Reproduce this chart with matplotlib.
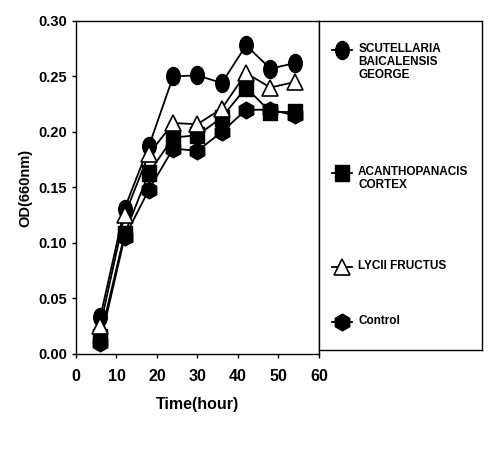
import matplotlib
matplotlib.use('Agg')
import matplotlib.pyplot as plt
from matplotlib.path import Path
import numpy as np

# Zeitpunkte (Stunden) und OD-Werte je Gruppe
time = [6, 12, 18, 24, 30, 36, 42, 48, 54]
scutellaria = [0.033, 0.131, 0.187, 0.250, 0.251, 0.244, 0.278, 0.257, 0.262]
acanthopanax = [0.015, 0.108, 0.163, 0.195, 0.197, 0.213, 0.240, 0.218, 0.218]
lycii = [0.025, 0.125, 0.180, 0.208, 0.207, 0.221, 0.253, 0.240, 0.245]
control = [0.010, 0.105, 0.148, 0.185, 0.183, 0.200, 0.220, 0.220, 0.215]

labels = ['SCUTELLARIA\nBAICALENSIS\nGEORGE', 'ACANTHOPANACIS\nCORTEX',
          'LYCII FRUCTUS', 'Control']

plt.rcParams['font.family'] = ['Liberation Sans', 'DejaVu Sans']
plt.rcParams['font.weight'] = 'bold'

# hohe Ellipse und hohes Rechteck als Marker
circ = Path.unit_circle()
ellipse = Path(circ.vertices * np.array([0.75, 1.0]), circ.codes)
rect = Path([(-0.4, -0.5), (0.4, -0.5), (0.4, 0.5), (-0.4, 0.5), (-0.4, -0.5)],
            [Path.MOVETO, Path.LINETO, Path.LINETO, Path.LINETO, Path.CLOSEPOLY])

styles = [
    dict(marker=ellipse, markersize=13, markerfacecolor='black'),
    dict(marker=rect, markersize=12, markerfacecolor='black'),
    dict(marker='^', markersize=12, markerfacecolor='white', markeredgewidth=1.2),
    dict(marker='h', markersize=12, markerfacecolor='black'),
]
zorders = [3, 2, 4, 1]
series = [scutellaria, acanthopanax, lycii, control]

fig = plt.figure(figsize=(4.9, 4.55), dpi=100)
ax = fig.add_axes([0.155, 0.222, 0.496, 0.732])

for vals, st, z in zip(series, styles, zorders):
    ax.plot(time, vals, color='black', lw=1.3, zorder=z, **st)

ax.set_xlim(0, 60)
ax.set_ylim(0, 0.30)
ax.set_xticks(range(0, 61, 10))
ax.set_yticks(np.arange(0, 0.301, 0.05))
ax.set_yticklabels(['%.2f' % v for v in np.arange(0, 0.301, 0.05)])
ax.tick_params(direction='out', length=3, labelsize=10.5, width=1)
ax.tick_params(axis='x', labelsize=11.5, pad=8)
ax.set_xlabel('Time(hour)', fontsize=11.5, fontweight='bold', labelpad=9)
ax.set_ylabel('OD(660nm)', fontsize=10.5, fontweight='bold', labelpad=4)
for s in ax.spines.values():
    s.set_linewidth(1.0)

# Legende als eigener Kasten rechts
lax = fig.add_axes([0.651, 0.231, 0.333, 0.723])
lax.set_xlim(0, 1)
lax.set_ylim(1, 0)
lax.set_xticks([])
lax.set_yticks([])
for s in lax.spines.values():
    s.set_linewidth(1.0)
entry_y = [0.088, 0.462, 0.748, 0.915]
for yy, lab, st in zip(entry_y, labels, styles):
    lax.plot([0.08, 0.14, 0.20], [yy, yy, yy], color='black', lw=1.3,
             markevery=[1], **st)
    lax.text(0.24, yy - 0.022, lab, fontsize=8.5, fontweight='bold',
             va='top', ha='left', linespacing=1.15)

plt.savefig('out.png', dpi=100)
